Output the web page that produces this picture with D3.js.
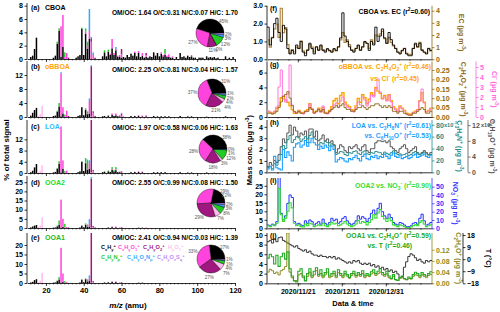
<!DOCTYPE html>
<html lang="en">
<head>
<meta charset="UTF-8">
<title>AMS factor profiles and time series</title>
<style>
  body { margin: 0; background: #fff; }
  svg { display: block; font-family: "Liberation Sans", Arial, sans-serif; }
</style>
</head>
<body>
<script src="https://d3js.org/d3.v7.min.js"></script>
<script>
// ion families (stack order) and colours
const famLabels = ["C_{x}H_{y}^{+}", "C_{x}H_{y}O_{1}^{+}", "C_{x}H_{y}O_{2}^{+}", "H_{y}O_{1}^{+}",
                   "C_{x}H_{y}N_{p}^{+}", "C_{x}H_{y}O_{z}N_{p}^{+}", "C_{x}H_{y}O_{z}S_{q}^{+}"];
const famColors = ["#000000", "#ff44dd", "#a0177f", "#ffbbee", "#22cc22", "#33aaff", "#bb88ff"];

const profileNames = ["CBOA", "oBBOA", "LOA", "OOA2", "OOA1"];
const profileColors = ["#000000", "#ffa500", "#33bbff", "#22dd22", "#22bb22"];
const ratioTexts = [
  "OM/OC: 1.64 O/C:0.31 N/C:0.07 H/C: 1.70",
  "OM/OC: 2.25 O/C:0.81 N/C:0.04 H/C: 1.57",
  "OM/OC: 1.97 O/C:0.58 N/C:0.06 H/C: 1.63",
  "OM/OC: 2.55 O/C:0.99 N/C:0.08 H/C: 1.50",
  "OM/OC: 2.41 O/C:0.94 N/C:0.03 H/C: 1.39"
];

// family fractions (%) for the pies
const pieA = [45, 27, 11, 0, 12, 3, 2];
const pieB = [31, 37, 21, 4, 4, 2, 1];
const pieC = [38, 28, 18, 3, 12, 1, 0];
const pieD = [22, 29, 29, 7, 8, 3, 2];
const pieE = [27, 33, 27, 7, 4, 1, 1];

// spectra rows: [m/z, CxHy, CxHyO1, CxHyO2, HyO1, CxHyNp, CxHyOzNp, CxHyOzSq]  (% of total signal)
const specA = [
  [12,0.3],[13,0.5],[14,1.5],[15,3.2],[24,0.2],[25,0.5],[26,2.3,0,0,0,0.3],[27,4.2,0,0,0,0.4],
  [28,0.3,4.6],[29,1.8,4.8],[30,0,0.3,0,0,0.7],[31,0,0.9],[32,0,0,0.2],[36,0.2],[37,0.4],[38,0.6],
  [39,4.5,0,0,0,0.2],[40,0.6],[41,3.8,0.3,0,0,0.4,0.1],[42,1.5,0.4,0,0,0.5,0.2],[43,3.0,1.2,0,0,0,3.3],
  [44,0,2.6,0.5,0,0,0.2],[45,0,0.6,0,0,0,0.3,0.1],[46,0,0,0.2],[50,0.4],[51,1.0,0,0,0,0.3],[52,0.4],
  [53,1.1,0,0,0,0.3],[54,0.6,0.2],[55,1.6,1.4],[56,0.6,0.3],[57,1.3,0.2,0,0,0,0.3],[58,0.3,0.2],
  [59,0.3,0.3],[60,0.2,0.5,0.8],[61,0.3],[62,0.2],[63,0.6],[64,0.3],[65,0.8],[66,0.5],[67,0.9,0.2],
  [68,0.4],[69,0.9,0.3],[70,0.3],[71,0.5,0.4],[72,0.2],[73,0.3,0.3,0.3],[74,0.2],[75,0.4],[76,0.3],
  [77,1.0],[78,0.5],[79,0.9],[80,0.4],[81,0.8,0.2],[82,0.4,0.2],[83,0.6,0.2,0,0,0.7],[84,0.3,0.2],
  [85,0.3,0.4],[86,0.2],[87,0.2,0.2],[89,0.3],[91,0.9],[92,0.3],[93,0.4],[94,0.2],[95,0.5],[96,0.3],
  [97,0.4,0.2],[98,0.2],[99,0.2],[101,0.2],[102,0.2],[103,0.2],[105,0.4],[106,0.2],[107,0.3],[108,0.2],
  [109,0.3],[110,0.1],[111,0.2],[115,0.4],[117,0.2],[119,0.3]
];
const specB = [
  [12,0.4],[13,1.2],[14,2.0],[15,2.6],[16,0,0,0,0.3],[17,0,0,0,0.8],[18,0,0,0,3.2],[24,0.3],[25,0.4],
  [26,1.5,0,0,0,0.3],[27,3.0,0,0,0,1.0],[28,0.2,12.3,0,0,0,0.3],[29,1.0,1.8],[30,0,0.3,0,0,0.4],[31,0,1.8],
  [32,0,0,0.3],[37,0.3],[38,0.5],[39,2.8],[40,0.5],[41,2.0,0.2,0,0,0.3],[42,0.8,0.3,0,0,0.5],
  [43,1.0,3.6,0,0,0,0.7],[44,0,0.3,14.2,0,0,0.3],[45,0,1.2,0.4],[46,0,0,0.3],[50,0.2],[51,0.3],[53,0.4],
  [55,0.6,0.4],[56,0.3],[57,0.5,0.5],[58,0.2],[59,0.2,0.3],[60,0,0.4,0.6,0,0,0,0.2],[61,0,0.2],[65,0.3],
  [67,0.3],[69,0.3,0.2],[71,0.2,0.2],[73,0.2,0.3],[77,0.3],[79,0.2],[81,0.2],[83,0.2],[85,0.2],[91,0.3],
  [95,0.2],[97,0.2],[105,0.1],[115,0.2]
];
const specC = [
  [12,0.3],[13,0.8],[14,2.0],[15,3.2],[16,0,0,0,0.3],[17,0,0,0,0.8],[18,0,0,0,2.8],[24,0.2],[25,0.4],
  [26,1.5,0,0,0,0.3],[27,3.3,0,0,0,0.9],[28,0.2,16.4],[29,1.5,3.0],[30,0,0.2,0,0,0.5],[31,0,0.9],
  [37,0.3],[38,0.6],[39,4.0,0,0,0,0.2],[40,0.7],[41,3.5,0.2,0,0,1.6],[42,1.2,0.3,0,0,2.8,0.5],
  [43,1.5,2.0,0,0,0,1.0],[44,0,0.3,19.5],[45,0,0.8,0.3],[50,0.3],[51,0.5],[53,0.6,0,0,0,0.3],[54,0.4],
  [55,1.2,0.3,0,0,0.6],[56,0.6,0,0,0,0.4],[57,1.0,0.3,0,0,0.8],[58,0.3],[59,0.3,0.2],[60,0.2,0.2,0.2],
  [65,0.3],[67,0.4],[69,0.4,0.2],[71,0.3,0.2],[77,0.3],[79,0.3],[81,0.3],[83,0.3],[91,0.3],[95,0.2],
  [97,0.2],[105,0.2],[109,0.1]
];
const specD = [
  [12,0.3],[13,0.8],[14,1.3],[15,1.6],[16,0,0,0,0.6],[17,0,0,0,1.4],[18,0,0,0,5.8],[24,0.2],[25,0.3],
  [26,0.9,0,0,0,0.4],[27,1.8,0,0,0,2.3],[28,0.2,15.3],[29,0.6,4.4],[30,0,0.3,0,0,2.0],[31,0,0.6],
  [32,0,0,0.3],[38,0.3],[39,1.3],[40,0.4],[41,1.8,0.2,0,0,0.5],[42,0.6,0.3,0,0,1.0],[43,0.8,1.5,0,0,0,2.5],
  [44,0,0.3,26.5,0,0,1.0],[45,0,0.6,0.5],[46,0,0,0.3],[53,0.3],[55,0.5,0.3],[57,0.4,0.4],[59,0,0.3],
  [60,0,0.2,0.3],[69,0.2],[71,0.2],[73,0,0.3]
];
const specE = [
  [12,0.3],[13,0.6],[14,1.5],[15,2.0],[16,0,0,0,0.5],[17,0,0,0,1.2],[18,0,0,0,5.3],[24,0.2],[25,0.3],
  [26,1.0,0,0,0,0.3],[27,1.8,0,0,0,1.2,0.2],[28,0.2,18.3],[29,0.5,4.5],[30,0,0.2,0,0,0.8],[31,0,0.5],
  [38,0.3],[39,1.8],[40,0.4],[41,2.0,0.2,0,0,0.3],[42,0.8,0.3,0,0,0.8],[43,1.0,1.5,0,0,0,1.5],
  [44,0,0.3,26],[45,0,0.6,0.4],[51,0.3],[53,0.4],[55,0.6,0.3],[57,0.5,0.3],[59,0,0.3],[60,0,0.2,0.3],
  [69,0.2],[71,0.2]
];

// daily time series, 2020/11/07 .. 2021/01/20
const startDate = new Date(2020, 10, 7);
const cboa = [1.8,0.8,1.2,2.0,2.3,1.5,1.0,1.9,1.7,0.6,0.3,0.5,0.3,0.8,0.6,1.0,0.4,0.2,0.5,0.9,0.6,0.3,0.7,0.5,0.8,
  0.5,0.4,0.6,0.5,0.4,0.6,0.5,0.7,1.2,2.6,1.3,1.0,0.7,0.5,0.4,0.6,0.8,0.5,0.7,1.0,0.9,0.5,1.0,0.8,1.8,
  1.0,1.3,1.7,1.2,0.9,1.5,1.1,0.8,0.6,0.4,0.3,0.5,0.6,0.3,0.2,0.2,0.6,0.9,0.7,0.9,0.5,0.4,0.3,0.6,0.5];
const ec = [1.6,1.0,1.8,2.5,2.9,1.8,4.2,2.2,2.6,1.2,0.5,0.8,0.6,1.0,0.9,1.5,0.7,0.5,0.8,1.2,1.0,0.6,1.0,0.8,1.1,
  0.8,0.7,0.8,0.7,0.6,0.8,0.7,1.0,1.6,2.2,1.4,1.6,1.2,0.8,0.7,0.9,1.1,0.8,1.0,1.4,1.3,0.9,1.6,1.3,2.0,
  1.9,2.1,2.3,1.7,1.3,1.8,1.4,1.1,0.9,0.6,0.5,0.7,0.9,0.5,0.4,0.4,0.9,1.2,1.0,1.4,0.8,0.6,0.5,0.9,0.7];
const obboa = [0.8,0.6,0.5,0.7,1.2,1.5,2.6,2.8,2.3,2.0,1.5,1.0,0.5,0.6,0.9,0.6,0.5,0.8,1.0,1.8,1.1,0.6,0.8,1.2,0.7,
  1.3,0.6,0.5,0.9,1.4,2.2,2.5,1.8,2.9,3.3,2.0,1.6,1.4,1.0,0.9,1.5,2.5,2.0,3.0,2.6,1.8,2.4,3.3,2.9,4.0,
  3.5,3.2,2.5,2.9,2.3,3.0,2.2,1.4,1.1,0.8,1.5,1.2,0.9,0.5,0.4,0.3,0.6,0.8,1.0,2.2,3.3,2.0,0.7,0.9,1.2];
const c2h4o2 = [0.02,0.02,0.015,0.02,0.03,0.05,0.08,0.11,0.12,0.135,0.10,0.06,0.03,0.02,0.03,0.02,0.02,0.03,0.03,0.05,
  0.04,0.02,0.03,0.04,0.03,0.04,0.02,0.02,0.03,0.04,0.05,0.06,0.05,0.06,0.07,0.05,0.04,0.04,0.03,0.03,
  0.04,0.05,0.05,0.06,0.05,0.04,0.05,0.06,0.06,0.07,0.07,0.06,0.05,0.06,0.05,0.06,0.05,0.03,0.03,0.02,
  0.03,0.03,0.02,0.015,0.01,0.01,0.02,0.02,0.03,0.04,0.05,0.04,0.02,0.02,0.03];
const chloride = [0.6,0.5,0.4,0.6,1.0,3.0,4.7,1.8,1.5,2.3,5.2,1.2,0.5,0.4,0.6,0.4,0.3,0.5,0.6,1.3,0.8,0.4,0.5,0.8,0.5,
  1.1,0.4,0.3,0.5,0.8,1.2,1.4,1.0,1.6,2.0,1.3,1.0,0.9,0.6,0.5,0.9,1.5,1.2,2.0,1.7,1.1,1.5,2.2,2.0,2.8,
  3.8,2.5,1.8,2.0,1.6,2.2,1.5,0.9,0.7,0.5,1.0,0.8,0.6,0.3,0.2,0.2,0.4,0.5,0.7,1.6,2.8,1.4,0.5,0.6,0.8];
const loa = [0.3,0.5,0.2,1.4,0.4,0.3,0.2,2.0,1.3,1.8,1.5,1.0,2.2,2.5,2.6,2.2,2.4,2.8,2.3,2.6,3.0,2.6,2.4,2.0,2.3,
  2.1,2.4,2.2,1.9,2.3,2.0,0.9,1.1,1.3,1.2,1.0,0.9,1.2,1.1,1.3,1.5,1.2,1.0,1.4,1.6,1.2,1.1,1.4,1.3,1.5,
  1.2,1.4,1.3,1.6,1.4,1.2,1.5,1.7,1.4,1.3,1.5,1.2,1.3,1.4,1.2,1.3,1.5,1.6,1.3,1.4,1.5,1.6,1.4,1.3,1.5];
const c3h8n = [0.008,0.010,0.006,0.015,0.012,0.020,0.030,0.045,0.040,0.055,0.062,0.050,0.055,0.060,0.058,0.052,0.056,
  0.060,0.050,0.062,0.068,0.058,0.055,0.046,0.050,0.048,0.052,0.050,0.044,0.048,0.045,0.030,0.032,0.035,
  0.034,0.030,0.028,0.033,0.032,0.035,0.036,0.032,0.030,0.034,0.036,0.031,0.030,0.033,0.032,0.035,0.034,
  0.033,0.030,0.034,0.032,0.030,0.033,0.036,0.032,0.030,0.031,0.029,0.030,0.032,0.028,0.030,0.033,0.035,
  0.031,0.030,0.032,0.034,0.031,0.029,0.030];
const c6h10o = [0.0015,0.0025,0.0018,0.0030,0.0025,0.0045,0.0065,0.0085,0.0075,0.0100,0.0120,0.0095,0.0115,0.0105,
  0.0090,0.0100,0.0095,0.0105,0.0085,0.0110,0.0110,0.0090,0.0105,0.0080,0.0085,0.0095,0.0080,0.0085,0.0075,
  0.0080,0.0070,0.0050,0.0060,0.0070,0.0065,0.0055,0.0050,0.0065,0.0060,0.0065,0.0070,0.0060,0.0055,0.0065,
  0.0070,0.0055,0.0050,0.0060,0.0060,0.0075,0.0080,0.0080,0.0078,0.0080,0.0075,0.0080,0.0065,0.0060,0.0055,
  0.0050,0.0060,0.0065,0.0070,0.0060,0.0050,0.0055,0.0060,0.0065,0.0050,0.0045,0.0050,0.0055,0.0050,0.0045,0.0050];
const ooa2 = [1.5,1.0,2.0,1.5,3.0,23.5,8.0,4.0,6.0,10.0,15.0,12.0,3.0,1.5,2.0,1.0,0.8,2.5,1.5,3.0,2.5,1.0,1.5,2.0,1.5,
  3.0,1.5,1.0,2.0,3.5,2.5,3.0,1.5,2.0,3.0,4.0,2.5,1.5,1.0,1.5,2.5,4.5,3.0,4.0,3.5,2.0,3.5,5.0,8.0,6.0,
  9.0,11.0,7.0,5.5,4.0,6.0,4.5,2.0,1.5,1.0,2.0,1.5,1.0,0.5,0.5,0.8,1.5,2.0,1.5,3.5,4.5,2.5,1.0,1.5,2.0];
const nitrate = [4,3,5,4,8,62,18,10,15,30,40,37,8,5,6,4,3,9,6,10,8,4,6,8,5,11,6,4,7,12,9,11,6,8,12,14,9,6,4,6,
  9,15,11,14,12,8,12,18,22,17,24,30,20,15,12,17,13,7,5,4,7,6,4,2,2,3,6,7,5,12,17,9,4,5,7];
const ooa1 = [5.2,6.0,5.5,4.0,5.8,3.5,5.5,6.2,5.0,6.5,3.0,1.5,0.5,0.3,2.5,3.0,1.5,0.5,2.0,3.0,1.5,2.5,3.2,1.8,2.8,
  1.5,2.2,3.0,1.5,2.0,2.5,1.5,2.8,2.0,1.5,2.5,1.8,1.2,2.0,2.5,1.6,2.2,1.8,2.6,1.5,2.0,1.7,2.4,2.8,2.0,
  2.5,3.0,2.2,1.8,2.5,1.5,1.0,1.8,0.8,0.6,1.2,1.5,1.0,0.8,1.3,1.0,1.8,2.3,2.0,1.5,2.2,1.8,1.5,2.0,2.4];
const c2h4o = [0.04,0.05,0.045,0.035,0.04,0.03,0.045,0.05,0.06,0.18,0.04,0.02,0.01,0.01,0.03,0.035,0.02,0.01,0.025,
  0.04,0.02,0.03,0.045,0.025,0.035,0.02,0.03,0.04,0.02,0.025,0.035,0.02,0.038,0.028,0.02,0.035,0.025,0.018,
  0.028,0.035,0.022,0.03,0.025,0.035,0.02,0.028,0.024,0.033,0.038,0.028,0.034,0.04,0.03,0.025,0.034,0.02,
  0.015,0.025,0.012,0.01,0.018,0.02,0.015,0.012,0.018,0.015,0.025,0.03,0.028,0.02,0.03,0.025,0.02,0.028,0.032];
const temp = [13,14,12,15,13,16,16.5,14,13,12,11,10,9,10,8,7,6,7,5,6,4,3,3,2,3,2,2,1,2,1,2,0,1,0,-1,-2,-3,-2,-3,-1,
  -2,-1,-3,-4,-3,-4,-3,-5,-4,-6,-5,-7,-6,-8,-7,-9,-8,-10,-9,-11,-14,-13,-6,-2,2,4,3,1,-1,0,-2,-3,-1,-2,-1];

const dateTicks = [new Date(2020, 10, 21), new Date(2020, 11, 11), new Date(2020, 11, 31)];

// ---------------------------------------------------------------------------
const W = 500, H = 312;
const svg = d3.select("body").append("svg").attr("width", W).attr("height", H);
const FONT = "bold";

// text with _{sub} and ^{sup} markup
function rich(t, str, fs) {
  const re = /([_^])\{([^}]*)\}/g;
  let last = 0, shift = 0, m;
  const add = (txt, off, sz) => {
    if (!txt) return;
    t.append("tspan").attr("dy", off - shift).attr("font-size", sz).text(txt);
    shift = off;
  };
  while ((m = re.exec(str))) {
    add(str.slice(last, m.index), 0, fs);
    add(m[2], m[1] === "_" ? fs * 0.3 : -fs * 0.42, fs * 0.72);
    last = re.lastIndex;
  }
  add(str.slice(last), 0, fs);
  return t;
}
function label(x, y, str, opts = {}) {
  const t = svg.append("text").attr("x", x).attr("y", y)
    .attr("font-weight", opts.weight || FONT)
    .attr("fill", opts.color || "#000")
    .attr("text-anchor", opts.anchor || "start");
  if (opts.rotate) t.attr("transform", `rotate(${opts.rotate},${x},${y})`);
  return rich(t, str, opts.size || 7);
}
function styleAxis(g, color) {
  g.selectAll("path,line").attr("stroke", color).attr("stroke-width", 0.8);
  g.selectAll("text").attr("fill", color).attr("font-size", 7).attr("font-weight", FONT)
    .attr("font-family", "Liberation Sans, Arial, sans-serif");
}

// ---------------- left: mass spectra ----------------
const mzX = d3.scaleLinear().domain([10, 120]).range([27, 235]);
const leftPanels = [
  { tag: "(a)", spec: specA, pie: pieA, y0: 59, y1: 3, max: 8.4, ticks: [0, 2, 4, 6, 8], tagY: 10, ratioY: 15, pc: [210, 33] },
  { tag: "(b)", spec: specB, pie: pieB, y0: 117, y1: 61, max: 16, ticks: [0, 4, 8, 12], tagY: 69, ratioY: 72, pc: [212, 93] },
  { tag: "(c)", spec: specC, pie: pieC, y0: 173, y1: 120, max: 18.9, ticks: [0, 4, 8, 12], tagY: 129, ratioY: 130, pc: [213, 149] },
  { tag: "(d)", spec: specD, pie: pieD, y0: 228, y1: 176, max: 28.4, ticks: [0, 5, 10, 15, 20, 25], tagY: 185, ratioY: 185, pc: [211, 203] },
  { tag: "(e)", spec: specE, pie: pieE, y0: 283, y1: 233, max: 26.3, ticks: [0, 5, 10, 15, 20], tagY: 240, ratioY: 240, pc: [211, 259] }
];
const pieGen = d3.pie().sort(null).startAngle(Math.PI / 2).endAngle(Math.PI / 2 - 2 * Math.PI);
const arc = d3.arc().innerRadius(0).outerRadius(14);
const labArc = d3.arc().innerRadius(18).outerRadius(18);

leftPanels.forEach((p, i) => {
  const y = d3.scaleLinear().domain([0, p.max]).range([p.y0, p.y1]);
  const clipId = "lc" + i;
  svg.append("clipPath").attr("id", clipId).append("rect")
    .attr("x", 27).attr("y", p.y1).attr("width", 210).attr("height", p.y0 - p.y1);
  const g = svg.append("g").attr("clip-path", `url(#${clipId})`);
  p.spec.forEach(row => {
    let acc = 0;
    for (let k = 1; k < row.length; k++) {
      const v = row[k] || 0;
      if (v <= 0) continue;
      g.append("rect").attr("x", mzX(row[0]) - 0.75).attr("width", 1.5)
        .attr("y", y(acc + v)).attr("height", y(acc) - y(acc + v))
        .attr("fill", famColors[k - 1]);
      acc += v;
    }
  });
  // axes
  const ay = svg.append("g").attr("transform", "translate(27,0)")
    .call(d3.axisLeft(y).tickValues(p.ticks).tickSize(2.5).tickSizeOuter(0).tickPadding(1.5).tickFormat(d3.format("d")));
  styleAxis(ay, "#000");
  ay.select(".domain").attr("d", `M0,${p.y0}V${p.y1}`);
  const ax = svg.append("g").attr("transform", `translate(0,${p.y0})`)
    .call(d3.axisBottom(mzX).tickValues(d3.range(20, 121, 20)).tickSize(3).tickSizeOuter(0).tickPadding(2)
      .tickFormat(i === 4 ? d3.format("d") : ""));
  styleAxis(ax, "#000");
  ax.selectAll("text").attr("font-size", 7.5);
  svg.append("g").selectAll("line").data(d3.range(12, 121, 2).filter(v => v % 20)).join("line")
    .attr("x1", d => mzX(d)).attr("x2", d => mzX(d)).attr("y1", p.y0).attr("y2", p.y0 + 1.5)
    .attr("stroke", "#000").attr("stroke-width", 0.6);
  // titles
  label(31, p.tagY, p.tag, { size: 7 });
  label(45, p.tagY, profileNames[i], { size: 7, color: profileColors[i] });
  label(238, p.ratioY, ratioTexts[i], { size: 6.6, anchor: "end" });
  // pie
  const pg = svg.append("g").attr("transform", `translate(${p.pc[0]},${p.pc[1]})`);
  const arcs = pieGen(p.pie);
  pg.selectAll("path").data(arcs).join("path").attr("d", arc)
    .attr("fill", (d, k) => famColors[k]).attr("stroke", "#000").attr("stroke-width", 0.4);
  // label positions: keep clear of the title line, stack small right-hand slices
  const labs = arcs.map(d => {
    const c = labArc.centroid(d);
    const l = { d, x: c[0], y: c[1] };
    if (l.y < -13) { l.x = Math.max(l.x, 12); l.y = -12; }
    return l;
  });
  const right = labs.filter(l => l.x > 6).sort((a, b) => a.y - b.y);
  for (let k = 1; k < right.length; k++) {
    if (right[k].y - right[k - 1].y < 4.6) right[k].y = right[k - 1].y + 4.6;
  }
  pg.selectAll("text").data(labs).join("text")
    .attr("x", l => l.x).attr("y", l => l.y)
    .attr("text-anchor", l => l.x > 6 ? "start" : (l.x < -6 ? "end" : "middle"))
    .attr("dx", l => l.x > 6 ? -3 : (l.x < -6 ? 3 : 0))
    .attr("dy", "0.35em")
    .attr("font-size", 4.6).attr("fill", "#555").text(l => l.d.data + "%");
});

// family legend in panel (e)
const famPos = [[101, 249], [118, 249], [143, 249], [168, 249], [101, 259], [127, 259], [157, 259]];
famLabels.forEach((s, k) => label(famPos[k][0], famPos[k][1], s, { size: 5.6, color: famColors[k] }));

label(9, 150, "% of total signal", { rotate: -90, anchor: "middle", size: 8 });
{
  const t = svg.append("text").attr("x", 128).attr("y", 308).attr("text-anchor", "middle")
    .attr("font-size", 8).attr("font-weight", FONT);
  t.append("tspan").attr("font-style", "italic").text("m/z");
  t.append("tspan").text(" (amu)");
}

// ---------------- right: time series ----------------
const endDate = d3.timeDay.offset(startDate, cboa.length);
const tx = d3.scaleTime().domain([startDate, endDate]).range([267, 432]);
const days = cboa.map((_, i) => d3.timeDay.offset(startDate, i));

const e3 = v => Math.round(v * 1000);
const rightPanels = [
  { tag: "(f)", y0: 59.3, y1: 5.7,
    axes: [
      { key: "L", max: 3.0, min: 0, ticks: [0, 1, 2, 3], fmt: d3.format(".1f"), color: "#000", x: 267, side: "left" },
      { key: "R1", max: 4.41, min: 0, ticks: [0, 1, 2, 3, 4], fmt: d3.format("d"), color: "#8b6914", x: 432, side: "right",
        title: "EC (μg m^{-3})", tx: 459 }
    ],
    series: [{ data: ec, key: "R1", color: "#b08a4a", w: 1.2 }, { data: cboa, key: "L", color: "#000", w: 0.9 }],
    legend: [{ t: "CBOA vs. EC (r^{2}=0.60)", x: 430, y: 14, c: "#000" }] },
  { tag: "(g)", y0: 117, y1: 61.5,
    axes: [
      { key: "L", max: 7.5, min: 0, ticks: [0, 2, 4, 6], fmt: d3.format("d"), color: "#000", x: 267, side: "left" },
      { key: "R1", max: 0.295, min: 0, ticks: [0, 0.05, 0.1, 0.15, 0.2, 0.25], fmt: d3.format(".2f"), color: "#8b6914", x: 432,
        side: "right", title: "C_{2}H_{4}O_{2}^{+} (μg m^{-3})", tx: 461 },
      { key: "R2", max: 5.55, min: 0, ticks: [0, 1, 2, 3, 4, 5], fmt: d3.format("d"), color: "#ff66dd", x: 476, side: "right",
        title: "Cl^{-} (μg m^{-3})", tx: 492 }
    ],
    series: [{ data: obboa, key: "L", color: "#ffa500", w: 1.4 }, { data: chloride, key: "R2", color: "#ff77dd", w: 1 },
             { data: c2h4o2, key: "R1", color: "#8b6914", w: 0.9 }],
    legend: [{ t: "oBBOA vs. C_{2}H_{4}O_{2}^{+} (r^{2}=0.46)", x: 431, y: 68.5, c: "#ffa500" },
             { t: "vs. Cl^{-} (r^{2}=0.45)", x: 419, y: 80.5, c: "#ffa500" }] },
  { tag: "(h)", y0: 172.3, y1: 120,
    axes: [
      { key: "L", max: 4.6, min: 0, ticks: [0, 1, 2, 3, 4], fmt: d3.format("d"), color: "#000", x: 267, side: "left" },
      { key: "R1", max: 0.088, min: 0, ticks: [0, 0.02, 0.04, 0.06, 0.08], fmt: e3, color: "#2a8c8c", x: 432, side: "right",
        title: "C_{3}H_{8}N^{+} (μg m^{-3})", tx: 457, exp: 444 },
      { key: "R2", max: 0.0133, min: 0, ticks: [0, 0.004, 0.008, 0.012], fmt: e3, color: "#555", x: 468, side: "right",
        title: "C_{6}H_{10}O^{+} (μg m^{-3})", tx: 490, exp: 481 }
    ],
    series: [{ data: c6h10o, key: "R2", color: "#555", w: 1 }, { data: c3h8n, key: "R1", color: "#2a8c8c", w: 1 },
             { data: loa, key: "L", color: "#1ea0ff", w: 1.1 }],
    legend: [{ t: "LOA vs. C_{3}H_{8}N^{+} (r^{2}=0.61)", x: 431, y: 127.5, c: "#1ea0ff" },
             { t: "vs. C_{6}H_{10}O^{+} (r^{2}=0.53)", x: 431, y: 138, c: "#1ea0ff" }] },
  { tag: "(i)", y0: 228.3, y1: 178,
    axes: [
      { key: "L", max: 29.6, min: 0, ticks: [0, 5, 10, 15, 20, 25], fmt: d3.format("d"), color: "#000", x: 267, side: "left" },
      { key: "R1", max: 60.4, min: 0, ticks: [0, 10, 20, 30, 40, 50], fmt: d3.format("d"), color: "#3333ff", x: 432, side: "right",
        title: "NO_{3}^{-} (μg m^{-3})", tx: 453 }
    ],
    series: [{ data: nitrate, key: "R1", color: "#2233ff", w: 1 }, { data: ooa2, key: "L", color: "#33dd33", w: 1.1 }],
    legend: [{ t: "OOA2 vs. NO_{3}^{-} (r^{2}=0.90)", x: 431, y: 187.5, c: "#33dd33" }] },
  { tag: "(j)", y0: 283.3, y1: 233,
    axes: [
      { key: "L", max: 10.4, min: 0, ticks: [0, 2, 4, 6, 8, 10], fmt: d3.format("d"), color: "#000", x: 267, side: "left" },
      { key: "R1", max: 0.18, min: 0, ticks: [0, 0.04, 0.08, 0.12], fmt: d3.format(".2f"), color: "#8b8b22", x: 432, side: "right",
        title: "C_{2}H_{4}O^{+} (μg m^{-3})", tx: 456 },
      { key: "R2", max: 19.5, min: -18, ticks: [-18, -9, 0, 9, 18], fmt: d3.format("d"), color: "#000", x: 463, side: "right",
        title: "T (°C)", tx: 486 }
    ],
    series: [{ data: temp, key: "R2", color: "#222", w: 0.9 }, { data: c2h4o, key: "R1", color: "#8b8b22", w: 1 },
             { data: ooa1, key: "L", color: "#22aa22", w: 1.1 }],
    legend: [{ t: "OOA1 vs. C_{2}H_{4}O^{+} (r^{2}=0.59)", x: 431, y: 237.5, c: "#22aa22" },
             { t: "vs. T (r^{2}=0.46)", x: 412, y: 248, c: "#22aa22" }] }
];

rightPanels.forEach((p, i) => {
  const scales = {};
  p.axes.forEach(a => {
    const y = d3.scaleLinear().domain([a.min, a.max]).range([p.y0, p.y1]);
    scales[a.key] = y;
    const gen = a.side === "left" ? d3.axisLeft(y) : d3.axisRight(y);
    const g = svg.append("g").attr("transform", `translate(${a.x},0)`)
      .call(gen.tickValues(a.ticks).tickSize(2.5).tickSizeOuter(0).tickPadding(1.5).tickFormat(a.fmt));
    styleAxis(g, a.color);
    g.select(".domain").attr("d", `M0,${p.y0}V${p.y1}`);
    if (a.title) label(a.tx, (p.y0 + p.y1) / 2, a.title, { rotate: 90, anchor: "middle", size: 7, color: a.color });
    if (a.exp) label(a.exp, p.y1 + 6.5, "x10^{-3}", { size: 5.6, color: a.color });
  });
  const clipId = "rc" + i;
  svg.append("clipPath").attr("id", clipId).append("rect")
    .attr("x", 267).attr("y", p.y1).attr("width", 165).attr("height", p.y0 - p.y1);
  const g = svg.append("g").attr("clip-path", `url(#${clipId})`);
  p.series.forEach(s => {
    const y = scales[s.key];
    const pts = s.data.map((v, k) => [tx(days[k]), y(v)]);
    pts.push([tx(endDate), y(s.data[s.data.length - 1])]);
    g.append("path").attr("d", d3.line().curve(d3.curveStepAfter)(pts))
      .attr("fill", "none").attr("stroke", s.color).attr("stroke-width", s.w);
  });
  // time axis
  const ax = svg.append("g").attr("transform", `translate(0,${p.y0})`)
    .call(d3.axisBottom(tx).tickValues(dateTicks).tickSize(3).tickSizeOuter(0).tickPadding(3)
      .tickFormat(i === 4 ? d3.timeFormat("%Y/%m/%d") : ""));
  styleAxis(ax, "#000");
  ax.selectAll("text").attr("font-size", 7);
  svg.append("g").selectAll("line").data(d3.timeDay.range(startDate, endDate, 5)).join("line")
    .attr("x1", d => tx(d)).attr("x2", d => tx(d)).attr("y1", p.y0).attr("y2", p.y0 + 1.5)
    .attr("stroke", "#000").attr("stroke-width", 0.6);
  label(270, p.y1 + 5, p.tag, { size: 7 });
  p.legend.forEach(l => label(l.x, l.y, l.t, { size: 6.8, anchor: "end", color: l.c }));
});

label(252, 150, "Mass conc. (μg m^{-3})", { rotate: -90, anchor: "middle", size: 7.5 });
label(353, 306, "Data & time", { anchor: "middle", size: 7.5 });
</script>
</body>
</html>
